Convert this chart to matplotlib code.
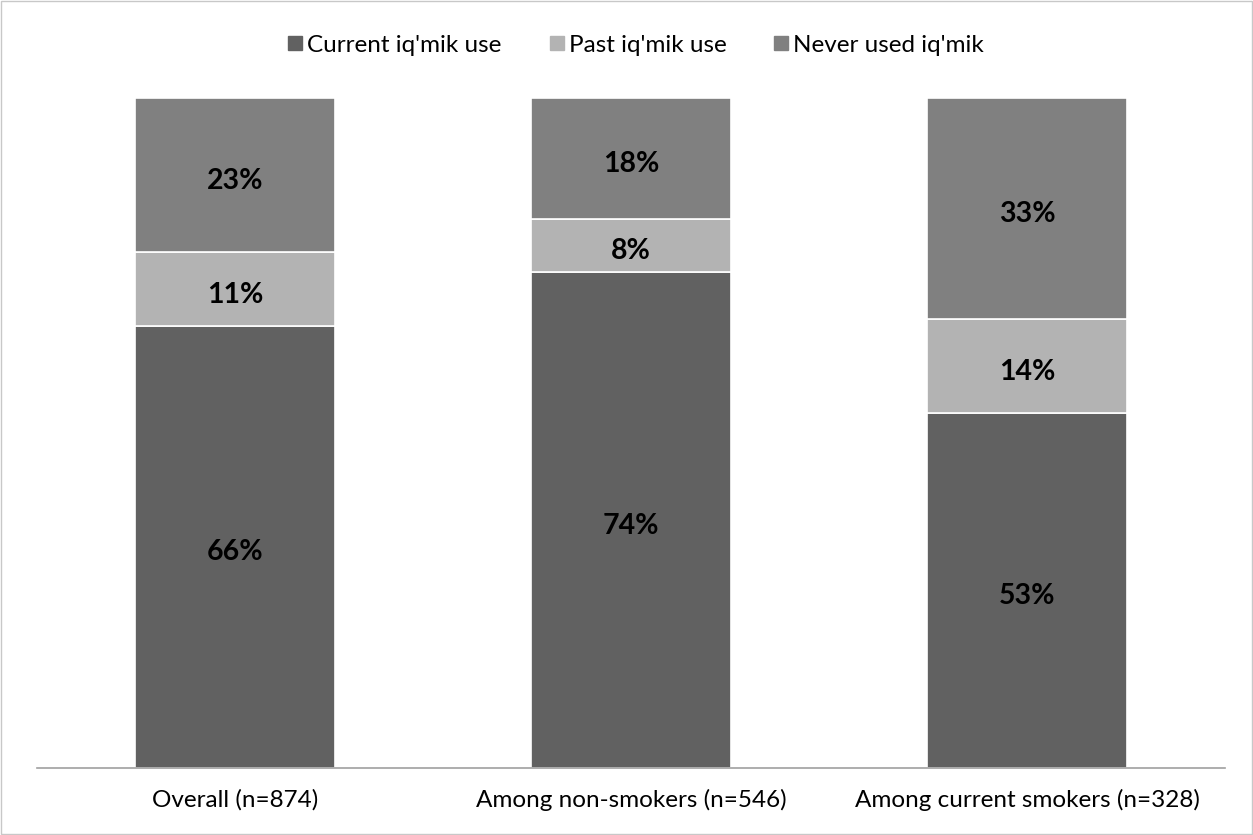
import matplotlib
matplotlib.use("Agg")
import matplotlib.pyplot as plt
from matplotlib.patches import Rectangle
from matplotlib.lines import Line2D

categories = ["Overall (n=874)", "Among non-smokers (n=546)", "Among current smokers (n=328)"]
series_names = ["Current iq'mik use", "Past iq'mik use", "Never used iq'mik"]
current_use = [66, 74, 53]
past_use = [11, 8, 14]
never_used = [23, 18, 33]
colors = ["#616161", "#b3b3b3", "#808080"]

plt.rcParams['font.family'] = ['Lato', 'DejaVu Sans']

fig = plt.figure(figsize=(12.53, 8.35), dpi=100)
ax = fig.add_axes([37 / 1253, 67 / 835, 1188 / 1253, (768 - 98) / 835])

x = list(range(len(categories)))
width = 0.505
bottom = [0] * len(categories)
for vals, col in zip([current_use, past_use, never_used], colors):
    ax.bar(x, vals, width, bottom=bottom, color=col, edgecolor="white", linewidth=1.2)
    for xi, b, v in zip(x, bottom, vals):
        ax.annotate(f"{v}%", (xi, b + v / 2), xytext=(0, -4), textcoords="offset points",
                    ha="center", va="center", fontsize=20.5, fontweight="bold", color="black")
    bottom = [b + v for b, v in zip(bottom, vals)]

ax.set_xlim(-0.5, 2.5)
ax.set_ylim(0, 100)
ax.set_yticks([])
ax.set_xticks(x)
ax.set_xticklabels(categories, fontsize=17.5)
ax.tick_params(axis="x", length=0, pad=15)
for side in ["top", "left", "right"]:
    ax.spines[side].set_visible(False)
ax.spines["bottom"].set_color("#a0a0a0")
ax.spines["bottom"].set_linewidth(1.2)

handles = [Line2D([0], [0], marker="s", linestyle="none", markersize=10,
                  markerfacecolor=c, markeredgecolor=c) for c in colors]
fig.legend(handles, series_names, loc="center left", bbox_to_anchor=(288 / 1253, 1 - 45 / 835),
           ncol=3, frameon=False, fontsize=17.5, handletextpad=0.2, columnspacing=1.95,
           borderpad=0, borderaxespad=0, handlelength=0.6)

fig.add_artist(Rectangle((0.001, 0.001), 0.998, 0.998, transform=fig.transFigure,
                         fill=False, edgecolor="#c8c8c8", linewidth=1))

fig.savefig("out.png", dpi=100)
